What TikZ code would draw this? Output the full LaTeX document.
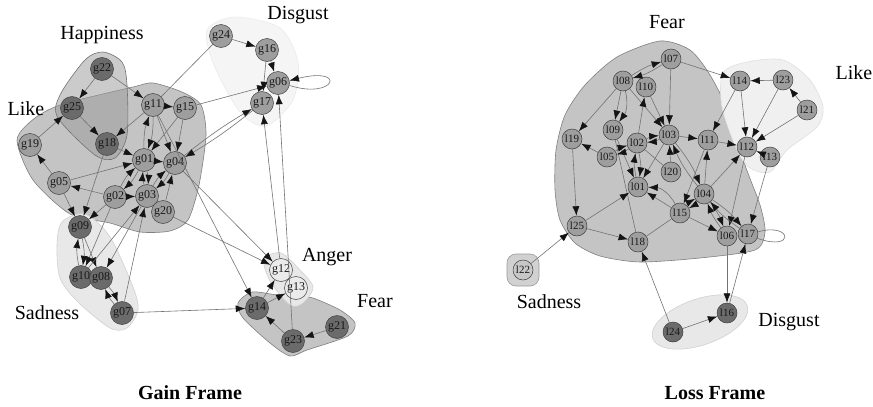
\documentclass[tikz,border=0pt]{standalone}
\usepackage{fontspec}
\setmainfont{Liberation Serif}
\usetikzlibrary{arrows.meta}
\begin{document}
\begin{tikzpicture}[x=1pt,y=-1pt,
  gn/.style={circle,draw=black!75,line width=0.5pt,fill=black!38,text=black!90,minimum size=23pt,inner sep=0pt,font=\fontsize{12}{12}\selectfont},
  ln/.style={gn,minimum size=20pt,font=\fontsize{11}{11}\selectfont},
  dk/.style={fill=black!58},
  lt/.style={fill=black!8},
  ed/.style={draw=black!55,line width=0.6pt,-{Latex[length=9.5pt,width=7pt,color=black!92]}},
  pl/.style={draw=black!55,line width=0.6pt},
  lab/.style={font=\fontsize{20}{20}\selectfont},
  ttl/.style={font=\fontsize{20}{20}\selectfont\bfseries},
  hullA/.style={fill=black!23,draw=black!50,line width=0.6pt},
  hullB/.style={fill=black!9,draw=black!18,line width=0.6pt},
  hullC/.style={fill=black!4,draw=black!8,line width=0.6pt},
]
\useasboundingbox (0,0) rectangle (873,407);
\fill[white] (0,0) rectangle (873,407);

% ---------- Left hulls ----------
\filldraw[hullC] plot[smooth cycle,tension=0.5] coordinates {(207,30)(235,17)(280,28)(298,62)(293,100)(266,126)(240,112)(214,65)};
\filldraw[hullA] plot[smooth cycle,tension=0.45] coordinates {(17,140)(35,118)(63,104)(133,87)(153,83)(182,92)(201,105)(206,135)(199,185)(188,220)(170,231)(140,232)(110,223)(70,214)(33,180)};
\filldraw[fill=black!40,fill opacity=0.5,draw=black!55,line width=0.6pt] plot[smooth cycle,tension=0.5] coordinates {(103,52)(122,62)(127,85)(127,135)(115,158)(95,155)(58,118)(60,95)(85,60)};
\filldraw[hullB] plot[smooth cycle,tension=0.5] coordinates {(62,222)(85,214)(110,237)(133,287)(138,310)(127,328)(110,328)(78,302)(60,278)(57,245)};
\filldraw[hullA] plot[smooth cycle,tension=0.45] coordinates {(238,303)(252,292)(277,295)(300,297)(313,298)(340,310)(355,323)(348,336)(307,350)(290,356)(270,343)(243,318)};
\filldraw[hullB] plot[smooth cycle,tension=0.5] coordinates {(264,259)(281,253)(300,270)(313,287)(303,303)(290,305)(270,281)};

% ---------- Right hulls ----------
\filldraw[hullA] plot[smooth cycle,tension=0.45] coordinates {(660,41)(690,50)(710,75)(730,115)(745,165)(760,205)(765,232)(755,250)(700,258)(640,262)(600,256)(575,243)(560,220)(555,190)(556,150)(565,115)(585,85)(617,57)};
\filldraw[hullC,fill=black!6,draw=black!12] plot[smooth cycle,tension=0.5] coordinates {(723,73)(747,62)(783,60)(810,80)(823,107)(817,127)(787,150)(770,172)(750,168)(737,150)(722,107)};
\filldraw[fill=black!18,draw=black!40,line width=0.6pt,rounded corners=9pt] (507,254) rectangle (539,286);
\filldraw[hullB] (700,322) ellipse [x radius=50pt,y radius=23pt,rotate=19];

% ---------- Left nodes ----------
\node[gn] (g24) at (221,36) {g24};
\node[gn] (g16) at (267,50) {g16};
\node[gn] (g06) at (278,83) {g06};
\node[gn] (g17) at (262,103) {g17};
\node[gn,dk] (g22) at (102,69) {g22};
\node[gn,dk] (g25) at (72,108) {g25};
\node[gn] (g11) at (153,105) {g11};
\node[gn] (g15) at (185,108) {g15};
\node[gn,dk] (g18) at (107,144) {g18};
\node[gn] (g19) at (30,145) {g19};
\node[gn] (g01) at (144,160) {g01};
\node[gn] (g04) at (175,163) {g04};
\node[gn] (g05) at (59,183) {g05};
\node[gn] (g02) at (115,197) {g02};
\node[gn] (g03) at (147,196) {g03};
\node[gn] (g20) at (163,212) {g20};
\node[gn,dk] (g09) at (80,227) {g09};
\node[gn,dk] (g10) at (81,277) {g10};
\node[gn,dk] (g08) at (101,278) {g08};
\node[gn,dk] (g07) at (122,313) {g07};
\node[gn,lt] (g12) at (281,270) {g12};
\node[gn,lt] (g13) at (296,288) {g13};
\node[gn,dk] (g14) at (257,308) {g14};
\node[gn,dk] (g23) at (293,341) {g23};
\node[gn,dk] (g21) at (337,327) {g21};

% ---------- Right nodes ----------
\node[ln] (l07) at (671,59) {l07};
\node[ln] (l08) at (623,81) {l08};
\node[ln] (l10) at (646,87) {l10};
\node[ln] (l19) at (572,139) {l19};
\node[ln] (l09) at (613,130) {l09};
\node[ln] (l02) at (637,143) {l02};
\node[ln] (l03) at (669,135) {l03};
\node[ln] (l05) at (607,157) {l05};
\node[ln] (l20) at (671,172) {l20};
\node[ln] (l01) at (638,187) {l01};
\node[ln] (l14) at (740,81) {l14};
\node[ln] (l23) at (783,80) {l23};
\node[ln] (l21) at (807,110) {l21};
\node[ln] (l11) at (708,140) {l11};
\node[ln] (l12) at (747,147) {l12};
\node[ln] (l13) at (770,157) {l13};
\node[ln] (l04) at (704,194) {l04};
\node[ln] (l15) at (680,213) {l15};
\node[ln] (l06) at (727,236) {l06};
\node[ln] (l17) at (748,234) {l17};
\node[ln] (l25) at (577,226) {l25};
\node[ln] (l18) at (638,242) {l18};
\node[ln,fill=black!22] (l22) at (523,270) {l22};
\node[ln,dk] (l24) at (673,332) {l24};
\node[ln,dk] (l16) at (727,313) {l16};

% ---------- Left edges ----------
\draw[ed] (g22) -- (g25);
\draw[ed] (g22) -- (g11);
\draw[ed] (g25) -- (g18);
\draw[ed] (g19) -- (g25);
\draw[ed] (g05) -- (g19);
\draw[ed] (g11) -- (g18);
\draw[ed] (g11) -- (g15);
\draw[ed] (g24) -- (g16);
\draw[pl] (g24) -- (g11);
\draw[ed] (g16) -- (g06);
\draw[ed] (g16) -- (g17);
\draw[ed] (g06.-12) .. controls (335,100) and (348,66) .. (g06.12);
\draw[ed] (g15) -- (g06);
\draw[ed] (g04) to[bend left=4] (g17);
\draw[ed] (g17) to[bend left=4] (g04);
\draw[ed] (g12) -- (g17);
\draw[ed] (g23) -- (g06);
\draw[ed] (g18) -- (g01);
\draw[ed] (g05) -- (g01);
\draw[ed] (g01) to[bend left=10] (g11);
\draw[ed] (g11) to[bend left=10] (g01);
\draw[ed] (g11) -- (g04);
\draw[ed] (g15) -- (g01);
\draw[ed] (g15) -- (g04);
\draw[ed] (g01) -- (g04);
\draw[ed] (g02) -- (g05);
\draw[ed] (g02) to[bend left=10] (g01);
\draw[ed] (g01) to[bend left=10] (g02);
\draw[ed] (g01) to[bend left=10] (g03);
\draw[ed] (g03) to[bend left=10] (g01);
\draw[ed] (g03) to[bend left=10] (g04);
\draw[ed] (g04) to[bend left=10] (g03);
\draw[ed] (g20) -- (g04);
\draw[ed] (g02) -- (g03);
\draw[ed] (g05) -- (g09);
\draw[ed] (g18) -- (g09);
\draw[ed] (g02) -- (g09);
\draw[ed] (g02) -- (g10);
\draw[ed] (g09) to[bend left=10] (g10);
\draw[ed] (g10) to[bend left=10] (g09);
\draw[ed] (g09) -- (g08);
\draw[ed] (g10) -- (g03);
\draw[ed] (g03) -- (g08);
\draw[ed] (g07) -- (g03);
\draw[ed] (g07) to[bend left=10] (g08);
\draw[ed] (g08) to[bend left=10] (g07);
\draw[ed] (g07) -- (g14);
\draw[ed] (g04) -- (g12);
\draw[ed] (g20) -- (g12);
\draw[ed] (g11) -- (g14);
\draw[ed] (g14) -- (g12);
\draw[ed] (g14) -- (g13);
\draw[ed] (g21) -- (g23);
\draw[ed] (g23) -- (g14);

% ---------- Right edges ----------
\draw[ed] (l08) to[bend left=8] (l07);
\draw[ed] (l07) to[bend left=8] (l08);
\draw[ed] (l07) -- (l03);
\draw[ed] (l07) -- (l14);
\draw[ed] (l08) -- (l09);
\draw[ed] (l08) to[bend left=25] (l09);
\draw[ed] (l08) -- (l03);
\draw[ed] (l02) -- (l10);
\draw[ed] (l10) -- (l03);
\draw[ed] (l08) -- (l19);
\draw[ed] (l05) -- (l19);
\draw[ed] (l19) -- (l25);
\draw[ed] (l09) -- (l01);
\draw[pl] (l09) -- (l18);
\draw[ed] (l02) to[bend left=10] (l01);
\draw[ed] (l01) to[bend left=10] (l02);
\draw[ed] (l02) to[bend left=10] (l03);
\draw[ed] (l03) to[bend left=10] (l02);
\draw[ed] (l05) to[bend left=10] (l02);
\draw[ed] (l02) to[bend left=10] (l05);
\draw[ed] (l03) -- (l01);
\draw[ed] (l03) -- (l11);
\draw[ed] (l20) -- (l03);
\draw[pl] (l02) -- (l20);
\draw[ed] (l04) to[bend left=8] (l03);
\draw[ed] (l03) to[bend left=8] (l04);
\draw[ed] (l11) -- (l12);
\draw[ed] (l14) -- (l11);
\draw[ed] (l14) -- (l12);
\draw[ed] (l23) -- (l14);
\draw[ed] (l21) -- (l23);
\draw[ed] (l23) -- (l12);
\draw[ed] (l21) -- (l12);
\draw[ed] (l13) -- (l12);
\draw[ed] (l13) -- (l17);
\draw[ed] (l12) -- (l06);
\draw[ed] (l04) -- (l11);
\draw[ed] (l04) -- (l12);
\draw[ed] (l11) -- (l15);
\draw[ed] (l04) to[bend left=10] (l15);
\draw[ed] (l15) to[bend left=10] (l04);
\draw[ed] (l15) -- (l01);
\draw[ed] (l15) to[bend right=30] (l01);
\draw[ed] (l15) -- (l06);
\draw[ed] (l04) to[bend left=8] (l06);
\draw[ed] (l06) to[bend left=8] (l04);
\draw[ed] (l04) to[bend left=8] (l17);
\draw[ed] (l17) to[bend left=8] (l04);
\draw[ed] (l06) -- (l16);
\draw[ed] (l16) -- (l17);
\draw[pl] (l17.12) .. controls (792,222) and (796,252) .. (l17.-25);
\draw[ed] (l24) -- (l16);
\draw[ed] (l24) -- (l18);
\draw[ed] (l25) -- (l01);
\draw[ed] (l25) -- (l18);
\draw[ed] (l22) -- (l25);
\draw[pl] (l15) -- (l18);

% ---------- Labels ----------
\node[lab] (tHap) at (102,35) {Happiness};
\node[lab] (tLikeG) at (26,109) {Like};
\node[lab] (tDisG) at (298,15) {Disgust};
\node[lab] (tAng) at (327,257) {Anger};
\node[lab] (tFearG) at (375,301) {Fear};
\node[lab] (tSadG) at (47,313) {Sadness};
\node[ttl] (tGain) at (190,393) {Gain Frame};
\node[lab] (tFearL) at (667,22) {Fear};
\node[lab] (tLikeL) at (854,73) {Like};
\node[lab] (tSadL) at (549,302) {Sadness};
\node[lab] (tDisL) at (789,322) {Disgust};
\node[ttl] (tLoss) at (715,393) {Loss Frame};
\end{tikzpicture}
\end{document}
